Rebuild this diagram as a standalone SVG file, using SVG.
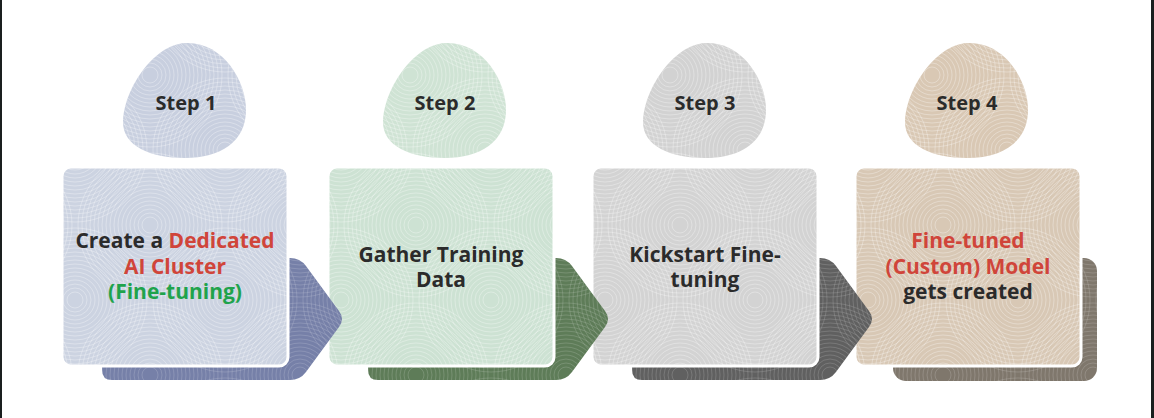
<svg xmlns="http://www.w3.org/2000/svg" width="1154" height="418" viewBox="0 0 1154 418">
  <defs>
    <g id="rings" fill="none">
      <circle r="8"/><circle r="12"/><circle r="16"/><circle r="20"/><circle r="24"/><circle r="28"/><circle r="32"/><circle r="36"/><circle r="40"/><circle r="44"/><circle r="48"/><circle r="52"/><circle r="56"/><circle r="60"/><circle r="64"/><circle r="68"/><circle r="72"/>
    </g>
    <pattern id="swirl" patternUnits="userSpaceOnUse" width="150" height="150">
      <g stroke="#ffffff" stroke-opacity="0.3" stroke-width="1">
        <use href="#rings" x="75" y="150"/>
        <use href="#rings" x="0" y="75"/>
        <use href="#rings" x="150" y="75"/>
        <use href="#rings" x="75" y="0"/>
      </g>
    </pattern>
    <path id="blob" d="M185,43 C222,41 246,80 246,110 C246,142 220,158 185,158 C150,158 123,146 123,122 C123,92 152,45 185,43 Z"/>
    <path id="arrow" d="M112,258 L290,258 Q300,258 306,266 L339,311 Q345,319 339,327 L306,372 Q300,380 290,380 L112,380 Q102,380 102,370 L102,268 Q102,258 112,258 Z"/>
    <rect id="card" x="62" y="167" width="226" height="199" rx="9"/>
  </defs>
  <style>
    .step { font-family: "Open Sans", "Noto Sans", sans-serif; font-weight: 700; font-size: 20px; fill: #2b2b2b; text-anchor: middle; }
    .lbl { font-family: "Open Sans", "Noto Sans", sans-serif; font-weight: 700; font-size: 21px; fill: #2b2b2b; text-anchor: middle; }
    .red { fill: #d0453a; }
    .green { fill: #1fa34c; }
    .tex { fill: url(#swirl); }
    .texd { fill: url(#swirl); opacity: 0.5; }
    .cardedge { stroke: #ffffff; stroke-width: 3; }
  </style>
  <rect x="0" y="0" width="1154" height="418" fill="#ffffff"/>
  <rect x="0" y="0" width="2" height="418" fill="#1a1f1f"/>
  <rect x="1151" y="0" width="3" height="418" fill="#1a1f1f"/>

  <g id="connectors"></g>

  <g id="step4" transform="translate(793,0)">
    <rect x="100" y="258" width="204" height="123" rx="13" fill="#7f776c"/>
    <rect x="100" y="258" width="204" height="123" rx="13" class="texd"/>
    <g transform="translate(-11,0)">
      <use href="#blob" fill="#d9c8b4"/>
      <use href="#blob" class="tex"/>
    </g>
    <use href="#card" fill="#d8c8b5" class="cardedge"/>
    <use href="#card" class="tex"/>
    <text class="step" x="174" y="110">Step 4</text>
    <text class="lbl red" x="175" y="248">Fine-tuned</text>
    <text class="lbl red" x="175" y="274">(Custom) Model</text>
    <text class="lbl" x="175" y="299">gets created</text>
  </g>

  <g id="step3" transform="translate(530,0)">
    <use href="#arrow" fill="#606060"/>
    <use href="#arrow" class="texd"/>
    <g transform="translate(-10,0)">
      <use href="#blob" fill="#d2d2d2"/>
      <use href="#blob" class="tex"/>
    </g>
    <use href="#card" fill="#d3d3d3" class="cardedge"/>
    <use href="#card" class="tex"/>
    <text class="step" x="175" y="110">Step 3</text>
    <text class="lbl" x="175" y="262">Kickstart Fine-</text>
    <text class="lbl" x="175" y="287">tuning</text>
  </g>

  <g id="step2" transform="translate(266,0)">
    <use href="#arrow" fill="#5e7c58"/>
    <use href="#arrow" class="texd"/>
    <g transform="translate(-6,0)">
      <use href="#blob" fill="#cfe3d4"/>
      <use href="#blob" class="tex"/>
    </g>
    <use href="#card" fill="#cde2d3" class="cardedge"/>
    <use href="#card" class="tex"/>
    <text class="step" x="179" y="110">Step 2</text>
    <text class="lbl" x="175" y="262">Gather Training</text>
    <text class="lbl" x="175" y="287">Data</text>
  </g>

  <g id="step1">
    <use href="#arrow" fill="#7680a8"/>
    <use href="#arrow" class="texd"/>
    <use href="#blob" fill="#c8cfdf"/>
    <use href="#blob" class="tex"/>
    <use href="#card" fill="#ccd3e1" class="cardedge"/>
    <use href="#card" class="tex"/>
    <text class="step" x="186" y="110">Step 1</text>
    <text class="lbl" x="175" y="248">Create a <tspan class="red">Dedicated</tspan></text>
    <text class="lbl red" x="175" y="274">AI Cluster</text>
    <text class="lbl green" x="175" y="299">(Fine-tuning)</text>
  </g>
</svg>
